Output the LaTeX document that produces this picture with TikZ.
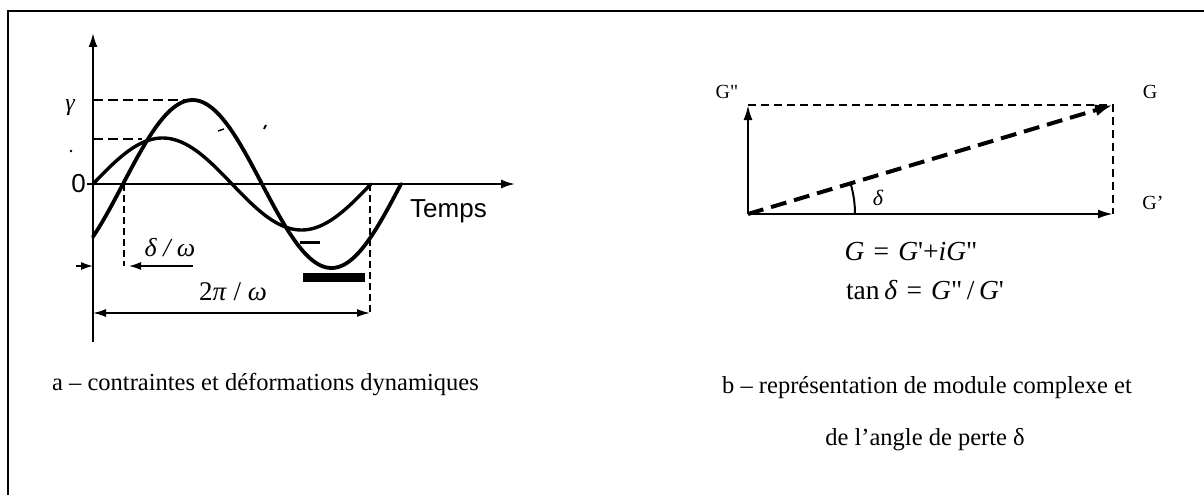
\documentclass[tikz,border=0pt]{standalone}
\usepackage{fontspec}
\setmainfont{Liberation Serif}
\newfontfamily\rawserif{Liberation Serif}
\newfontfamily\sansf{Liberation Sans}
\usetikzlibrary{arrows.meta}
\tikzset{
  axisarrow/.style={line width=2pt,-{Latex[length=14pt,width=9pt]}},
  wave/.style={line width=3.8pt,line join=round,line cap=round},
  guide/.style={line width=1.6pt,dash pattern=on 10pt off 5pt},
  vguide/.style={line width=1.4pt,dash pattern=on 7pt off 4pt},
  dimline/.style={line width=1.5pt},
  dimtip/.style={-{Latex[length=12pt,width=8pt]}},
  vec/.style={line width=2.2pt,-{Latex[length=15pt,width=9pt]}},
  thindash/.style={line width=1.4pt,dash pattern=on 8pt off 5pt},
  thickdash/.style={line width=4pt,dash pattern=on 16pt off 8pt,-{Latex[length=18pt,width=12pt]}},
  captext/.style={font=\rawserif\fontsize{24.5}{28}\selectfont,inner sep=0pt},
  lab/.style={font=\rawserif\fontsize{20}{24}\selectfont,inner sep=0pt},
  eq/.style={font=\rawserif\fontsize{27.5}{32}\selectfont,inner sep=0pt},
  sanslab/.style={font=\sansf\fontsize{26}{30}\selectfont,inner sep=0pt}
}
\begin{document}
\begin{tikzpicture}[x=1pt,y=-1pt]
\useasboundingbox (0,0) rectangle (1204,495);
\fill[white] (0,0) rectangle (1204,495);
% frame (cut by the page on the right and bottom)
\draw[line width=2.5pt] (8,495) -- (8,11) -- (1204,11);

% ---------- panel a ----------
\coordinate (O) at (93,184);
\coordinate (ytop) at (93,33);
\coordinate (ybot) at (93,342);
\coordinate (xleft) at (87,184);
\coordinate (xright) at (515,184);
\draw[line width=2pt] (ybot) -- (O);
\draw[axisarrow] (O) -- (ytop);
\draw[axisarrow] (xleft) -- (xright);
\node[sanslab,anchor=east] (zero) at (86,184) {0};
\node[sanslab,anchor=west] (temps) at (410,211) {Temps};

% curves
\draw[wave,domain=93:401,samples=120,smooth] plot (\x,{184-84*sin((\x-123)/278*360)});
\draw[wave,line width=3.4pt,domain=93:371,samples=120,smooth] plot (\x,{184-46*sin((\x-93)/278*360)});

% level guides
\coordinate (pk1) at (193,100);
\coordinate (pk2) at (142,139);
\draw[guide] (93,100) -- (pk1);
\draw[guide] (93,139) -- (pk2);

% remnants of labels
\node[font=\rawserif\itshape\fontsize{24}{28}\selectfont,inner sep=0pt] (g0) at (70,108) {γ};
\fill (71,151) circle (1.3pt);
\draw[line width=1.5pt] (218,131) -- (224,129);
\draw[line width=1.8pt] (264,129) -- (266,125);

% delta/omega dimension
\coordinate (c1) at (124,184);
\coordinate (d1) at (124,266);
\coordinate (dtip) at (129,266);
\coordinate (dl) at (76,266);
\coordinate (dr) at (193,266);
\draw[vguide] (c1) -- (d1);
\draw[dimline,dimtip] (dr) -- (dtip);
\draw[dimline,dimtip] (dl) -- (O|-dl);
\node[font=\rawserif\itshape\fontsize{26}{30}\selectfont,inner sep=0pt] (dw) at (170,248) {δ / ω};

% bars
\fill (300,240.5) rectangle (320,244);
\fill (303,272.5) rectangle (365,281.5);

% 2pi/omega dimension
\coordinate (e1) at (370,184);
\coordinate (e2) at (370,313);
\coordinate (e0) at (93,313);
\draw[vguide] (e1) -- (e2);
\draw[dimline,{Latex[length=13pt,width=8pt]}-{Latex[length=13pt,width=8pt]}] (e0) -- (e2);
\node[font=\rawserif\fontsize{27}{31}\selectfont,inner sep=0pt] (tpw) at (233,292) {2\textit{π} / \textit{ω}};

\node[captext,anchor=west] (capa) at (52,385) {a – contraintes et déformations dynamiques};

% ---------- panel b ----------
\coordinate (P) at (748,214);
\coordinate (Pu) at (748,105);
\coordinate (Pr) at (1113,214);
\coordinate (Pg) at (1113,105);
\draw[thindash] (Pu) -- (Pg) -- (Pr);
\draw[vec] (P) -- (Pu);
\draw[vec] (P) -- (Pr);
\draw[thickdash] (P) -- (Pg);
\draw[line width=2pt] (P) ++(0:107) arc (0:-16.6:107);
\node[font=\rawserif\itshape\fontsize{22}{26}\selectfont,inner sep=0pt] (dlt) at (878,198) {δ};

\node[lab] (gpp) at (727,92) {G"};
\node[lab] (gg) at (1150,92) {G};
\node[lab] (gp) at (1153,203) {G’};

\node[eq] (eq1) at (911,252) {\textit{G}\,\,=\,\,\textit{G}'+\textit{iG}"};
\node[eq] (eq2) at (925,290) {tan\,\textit{δ}\,\,=\,\,\textit{G}"\,/\,\textit{G}'};

\node[captext] (capb1) at (927,388) {b – représentation de module complexe et};
\node[captext] (capb2) at (925,440) {de l’angle de perte δ};
\end{tikzpicture}
\end{document}
